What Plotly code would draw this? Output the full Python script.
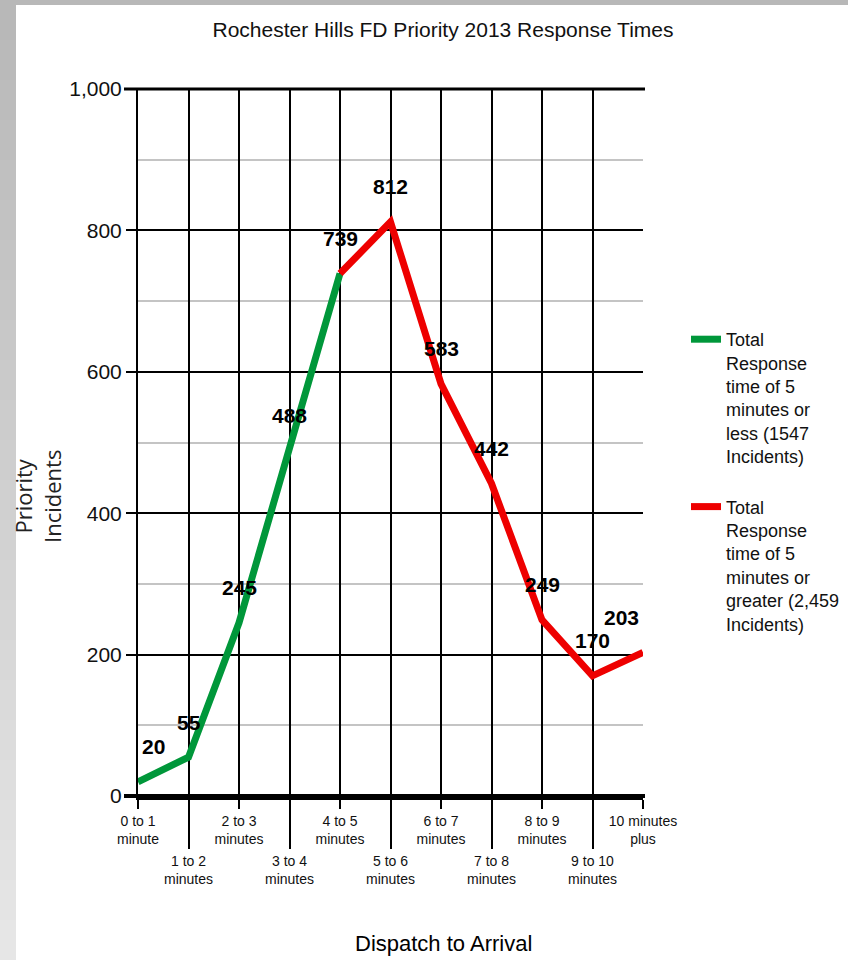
import plotly.graph_objects as go

categories = ["0 to 1<br>minute", "1 to 2<br>minutes", "2 to 3<br>minutes", "3 to 4<br>minutes",
              "4 to 5<br>minutes", "5 to 6<br>minutes", "6 to 7<br>minutes", "7 to 8<br>minutes",
              "8 to 9<br>minutes", "9 to 10<br>minutes", "10 minutes<br>plus"]
values = [20, 55, 245, 488, 739, 812, 583, 442, 249, 170, 203]
green_name = "Total<br>Response<br>time of 5<br>minutes or<br>less (1547<br>Incidents)"
red_name = "Total<br>Response<br>time of 5<br>minutes or<br>greater (2,459<br>Incidents)"
split_index = 4
title_text = "Rochester Hills FD Priority 2013 Response Times"
x_title = "Dispatch to Arrival"
y_title = "Priority<br>Incidents"

FONT = "Liberation Sans, Arial, sans-serif"
W, H = 848, 960
L, R, T, B = 138, 205, 89, 164
pw, ph = W - L - R, H - T - B

def px_x(p):
    return (p - L) / pw

def px_y(p):
    return (H - B - p) / ph

idx = list(range(len(categories)))
fig = go.Figure()
fig.add_trace(go.Scatter(x=idx[:split_index + 1], y=values[:split_index + 1], mode="lines",
                         line=dict(color="#00973a", width=7), name=green_name, legendgroup="g1",
                         xaxis="x", yaxis="y"))
fig.add_trace(go.Scatter(x=idx[split_index:], y=values[split_index:], mode="lines",
                         line=dict(color="#ee0000", width=7), name=red_name, legendgroup="g2",
                         xaxis="x", yaxis="y"))
# invisible trace to activate overlaid axis for odd categories
fig.add_trace(go.Scatter(x=idx, y=values, mode="none", showlegend=False, hoverinfo="skip",
                         xaxis="x2", yaxis="y"))

even = idx[0::2]
odd = idx[1::2]

annotations = []
for i, v in zip(idx, values):
    xs = 0
    if i == 0:
        xs = 15
    elif i == len(idx) - 1:
        xs = -22
    annotations.append(dict(x=i, y=v, xref="x", yref="y", text="<b>" + str(v) + "</b>", showarrow=False,
                            xshift=xs, yshift=35, font=dict(family=FONT, size=21, color="black"),
                            xanchor="center", yanchor="middle"))
annotations.append(dict(x=px_x(443), y=px_y(943), xref="paper", yref="paper", text=x_title,
                        showarrow=False, font=dict(family=FONT, size=22, color="black"),
                        xanchor="center", yanchor="middle"))
annotations.append(dict(x=px_x(38), y=px_y(497), xref="paper", yref="paper", text=y_title,
                        showarrow=False, textangle=-90, font=dict(family="Open Sans, Liberation Sans", size=22, color="#222"),
                        xanchor="center", yanchor="middle"))

shapes = []
# page frame: left gradient strip and top strip
n = 24
for k in range(n):
    t = k / (n - 1)
    c = int(0xb8 + (0xe6 - 0xb8) * t)
    shapes.append(dict(type="rect", xref="paper", yref="paper", x0=px_x(0), x1=px_x(16),
                       y0=px_y(k * H / n), y1=px_y((k + 1) * H / n), line=dict(width=0),
                       fillcolor=f"rgb({c},{c},{c})", layer="below"))
shapes.append(dict(type="rect", xref="paper", yref="paper", x0=px_x(16), x1=px_x(W),
                   y0=px_y(0), y1=px_y(5), line=dict(width=0), fillcolor="#b8b8b8", layer="below"))
# thick top and bottom border lines extending over tick marks
shapes.append(dict(type="line", xref="paper", yref="paper", x0=px_x(124), x1=px_x(645), y0=1, y1=1,
                   line=dict(color="black", width=3)))
shapes.append(dict(type="line", xref="paper", yref="paper", x0=px_x(124), x1=px_x(645), y0=0, y1=0,
                   line=dict(color="black", width=4)))

fig.update_layout(
    width=W, height=H,
    margin=dict(l=L, r=R, t=T, b=B, pad=0, autoexpand=False),
    paper_bgcolor="white", plot_bgcolor="white",
    title=dict(text=title_text, x=443 / W, xref="container", xanchor="center",
               y=1 - 30 / H, yref="container", yanchor="middle",
               font=dict(family=FONT, size=21, color="#111")),
    xaxis=dict(range=[0, 10], tickvals=even, ticktext=[categories[i] for i in even],
               ticks="outside", ticklen=9, tickwidth=2, tickcolor="black",
               showgrid=True, gridcolor="black", gridwidth=2, zeroline=False,
               showline=True, linecolor="black", linewidth=4, automargin=False,
               tickfont=dict(family=FONT, size=14, color="#111"), fixedrange=True),
    xaxis2=dict(range=[0, 10], overlaying="x", side="bottom", tickvals=odd,
                ticktext=[categories[i] for i in odd], automargin=False,
                ticks="outside", ticklen=52, tickwidth=2, tickcolor="black",
                showgrid=True, gridcolor="black", gridwidth=2, zeroline=False, showline=False,
                tickfont=dict(family=FONT, size=14, color="#111")),
    yaxis=dict(range=[0, 1000], tickvals=[0, 200, 400, 600, 800, 1000], tickformat=",",
               ticks="outside", ticklen=10, tickwidth=2, tickcolor="black",
               showgrid=True, gridcolor="black", gridwidth=2, zeroline=False,
               showline=True, linecolor="black", linewidth=2, automargin=False,
               minor=dict(tickvals=[100, 300, 500, 700, 900], showgrid=True, gridcolor="#c4c4c4",
                          gridwidth=2, ticks=""),
               tickfont=dict(family=FONT, size=21, color="#111")),
    legend=dict(x=px_x(686), y=px_y(321), xref="paper", yref="paper", xanchor="left", yanchor="top",
                valign="top", font=dict(family=FONT, size=18, color="#111"),
                itemwidth=30, tracegroupgap=24, bgcolor="rgba(0,0,0,0)"),
    annotations=annotations,
    shapes=shapes,
    showlegend=True,
)

fig.write_html("out.html", config={"displayModeBar": False},
               post_script="document.documentElement.style.margin='0';document.body.style.margin='0';"
                           "document.documentElement.style.overflow='hidden';document.body.style.overflow='hidden';")
